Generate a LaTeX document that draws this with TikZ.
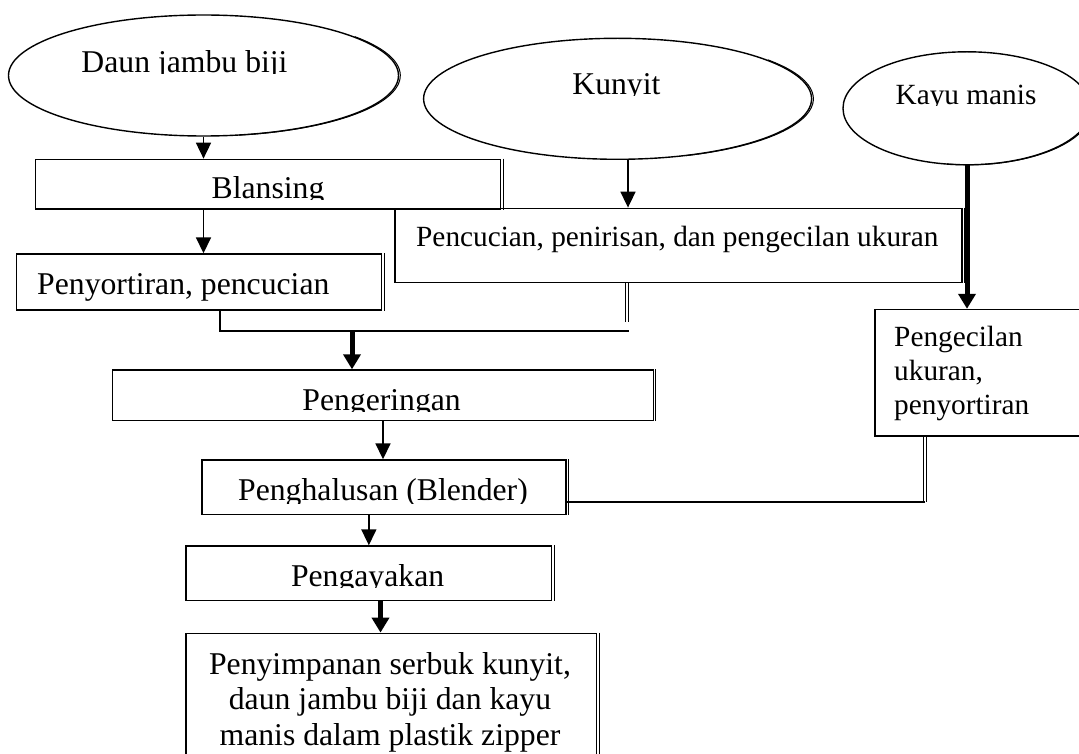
\documentclass[tikz,border=0pt]{standalone}
\usepackage{fontspec}
\setmainfont{Liberation Serif}
\usetikzlibrary{shapes.geometric,arrows.meta,calc}
\begin{document}
\begin{tikzpicture}[x=1pt,y=-1pt,
  box/.style={draw,line width=1.4pt,rectangle,inner sep=0pt},
  oval/.style={draw,line width=1.4pt,ellipse,inner sep=0pt},
  txt/.style={inner sep=0pt,font=\fontsize{31.7}{36.6}\selectfont},
  txtsmall/.style={inner sep=0pt,font=\fontsize{29.3}{34}\selectfont},
  arr/.style={line width=1.7pt,-{Triangle[length=16pt,width=15pt]}},
  thickarr/.style={line width=5pt,-{Triangle[length=15pt,width=17pt]}},
  dbl/.style={double,line width=1pt,double distance=1.6pt},
  conn/.style={line width=1.6pt},
  edgetwo/.style={line width=1pt}]
\useasboundingbox (0,0) rectangle (1079,754);
\clip (0,0) rectangle (1079,754);

% ---------- shapes ----------
\node[oval,minimum width=390pt,minimum height=121pt] (daun) at (203.5,75.5) {};
\node[oval,minimum width=388pt,minimum height=121pt] (kunyit) at (617.6,98.8) {};
\node[oval,minimum width=248pt,minimum height=113pt] (kayu) at (967,108.3) {};

\node[box,minimum width=465.2pt,minimum height=49.7pt] (blansing) at (268.1,184.2) {};
\node[box,minimum width=567pt,minimum height=74.2pt] (pencucian) at (678.5,245.4) {};
\node[box,minimum width=365pt,minimum height=56pt] (penyortiran) at (199,282) {};
\node[box,minimum width=225pt,minimum height=126.5pt] (pengecilan) at (987.5,372.75) {};
\node[box,minimum width=540.8pt,minimum height=50.7pt] (pengeringan) at (383,395.35) {};
\node[box,minimum width=364.2pt,minimum height=54.3pt] (penghalusan) at (383.9,487.15) {};
\node[box,minimum width=365.7pt,minimum height=54.7pt] (pengayakan) at (368.85,573.35) {};
\node[box,minimum width=410.7pt,minimum height=166.7pt] (penyimpanan) at (391.35,716.65) {};

% second (shadow) lines on the right sides
\foreach \n in {blansing,pencucian,penyortiran,pengeringan,penghalusan,pengayakan,penyimpanan}
  \draw[edgetwo] ([xshift=1.8pt]\n.north east) -- ([xshift=1.8pt]\n.south east);
\draw[edgetwo] ($(daun.center)+(1.8,0)$) ++(40:195pt and 60.5pt)
  arc[start angle=40,end angle=-80,x radius=195pt,y radius=60.5pt];
\draw[edgetwo] ($(kunyit.center)+(1.8,0)$) ++(40:194pt and 60.5pt)
  arc[start angle=40,end angle=-70,x radius=194pt,y radius=60.5pt];
\draw[edgetwo] ($(kayu.center)+(1.5,0)$) ++(10:124pt and 56.5pt)
  arc[start angle=10,end angle=-100,x radius=124pt,y radius=56.5pt];

% ---------- texts ----------
\begin{scope}
  \clip (0,0) rectangle (420,73.5);
  \node[txt,anchor=base] (tdaun) at (184.5,72.5) {Daun jambu biji};
\end{scope}
\begin{scope}
  \clip (0,150) rectangle (500,199.5);
  \node[txt,anchor=base] (tblansing) at (268,199) {Blansing};
\end{scope}
\begin{scope}
  \clip (420,40) rectangle (810,95.5);
  \node[txt,anchor=base] (tkunyit) at (616.4,94.5) {Kunyit};
\end{scope}
\begin{scope}
  \clip (845,50) rectangle (1079,106);
  \node[txtsmall,anchor=base] (tkayu) at (966,105) {Kayu manis};
\end{scope}
\node[txt,anchor=base west] (tpenyortiran) at (37,294) {Penyortiran, pencucian};
\node[txtsmall,anchor=base west] (tpencucian) at (416,247) {Pencucian, penirisan, dan pengecilan ukuran};
\node[txtsmall,anchor=base west] (tpkA) at (894,346.7) {Pengecilan};
\node[txtsmall,anchor=base west] (tpkB) at (894,380.7) {ukuran,};
\node[txtsmall,anchor=base west] (tpkC) at (894,414.7) {penyortiran};
\begin{scope}
  \clip (113,372) rectangle (653,411);
  \node[txt,anchor=base] (tpengeringan) at (381.6,410.5) {Pengeringan};
\end{scope}
\begin{scope}
  \clip (202,462) rectangle (566,503);
  \node[txt,anchor=base] (tpenghalusan) at (383,500.5) {Penghalusan (Blender)};
\end{scope}
\begin{scope}
  \clip (186,548) rectangle (551,587);
  \node[txt,anchor=base] (tpengayakan) at (367.6,586) {Pengayakan};
\end{scope}
\node[txt,anchor=base] (tpsA) at (390,674) {Penyimpanan serbuk kunyit,};
\node[txt,anchor=base] (tpsB) at (390,709.5) {daun jambu biji dan kayu};
\node[txt,anchor=base] (tpsC) at (390,745) {manis dalam plastik zipper};

% ---------- connectors ----------
\coordinate (jl) at (220,331);
\coordinate (jm) at (352,331);
\coordinate (jr) at (629,331);
\coordinate (jd) at (627,322);
\coordinate (kn) at (628,0);
\coordinate (kk) at (925,502);
\coordinate (py) at (380.5,0);

\draw[arr] (daun.south) -- (daun.south |- blansing.north);
\draw[arr] (blansing.south -| daun.south) -- (penyortiran.north -| daun.south);
\draw[arr] (kunyit.south -| kn) -- (pencucian.north -| kn);
\draw[thickarr] (kayu.south) -- (kayu.south |- pengecilan.north);
\draw[dbl] (pencucian.south -| jd) -- (jd);
\draw[conn] (penyortiran.south -| jl) -- (jl) -- (jr);
\draw[thickarr] (jm) -- (jm |- pengeringan.north);
\draw[arr] (pengeringan.south) -- (pengeringan.south |- penghalusan.north);
\draw[arr] (pengayakan.north |- penghalusan.south) -- (pengayakan.north);
\draw[thickarr] (pengayakan.south -| py) -- (penyimpanan.north -| py);
\draw[dbl] (pengecilan.south -| kk) -- (kk);
\draw[conn] (kk) -- (kk -| penghalusan.east);
\end{tikzpicture}
\end{document}
